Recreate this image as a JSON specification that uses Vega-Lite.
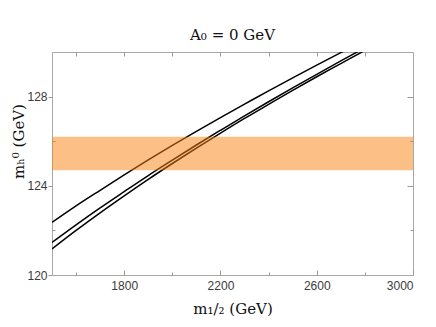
{
  "$schema": "https://vega.github.io/schema/vega-lite/v6.json",
  "width": 361,
  "height": 223,
  "autosize": {"type": "none"},
  "padding": {"left": 52, "top": 52, "right": 23, "bottom": 52},
  "background": "white",
  "config": {
    "view": {"stroke": "#a8a8a8", "strokeWidth": 1},
    "axis": {
      "domain": false,
      "grid": false,
      "tickColor": "#999999",
      "labelFont": "Liberation Sans",
      "labelFontSize": 12,
      "labelColor": "#3a3a3a",
      "titleFont": "DejaVu Serif",
      "titleFontSize": 15,
      "titleFontWeight": "normal",
      "titleColor": "#111111"
    }
  },
  "title": {
    "text": "A₀ = 0 GeV",
    "font": "DejaVu Serif",
    "fontSize": 15,
    "fontWeight": "normal",
    "color": "#111111",
    "offset": 9
  },
  "datasets": {
    "curves": [
      {"curve": "a", "m12": 1500, "mh": 122.36},
      {"curve": "a", "m12": 1600, "mh": 123.10},
      {"curve": "a", "m12": 1700, "mh": 123.80},
      {"curve": "a", "m12": 1800, "mh": 124.49},
      {"curve": "a", "m12": 1900, "mh": 125.16},
      {"curve": "a", "m12": 2000, "mh": 125.81},
      {"curve": "a", "m12": 2100, "mh": 126.44},
      {"curve": "a", "m12": 2200, "mh": 127.06},
      {"curve": "a", "m12": 2300, "mh": 127.66},
      {"curve": "a", "m12": 2400, "mh": 128.26},
      {"curve": "a", "m12": 2500, "mh": 128.84},
      {"curve": "a", "m12": 2600, "mh": 129.41},
      {"curve": "a", "m12": 2700, "mh": 129.97},
      {"curve": "a", "m12": 2800, "mh": 130.52},
      {"curve": "b", "m12": 1500, "mh": 121.46},
      {"curve": "b", "m12": 1600, "mh": 122.25},
      {"curve": "b", "m12": 1700, "mh": 123.01},
      {"curve": "b", "m12": 1800, "mh": 123.74},
      {"curve": "b", "m12": 1900, "mh": 124.46},
      {"curve": "b", "m12": 2000, "mh": 125.15},
      {"curve": "b", "m12": 2100, "mh": 125.83},
      {"curve": "b", "m12": 2200, "mh": 126.49},
      {"curve": "b", "m12": 2300, "mh": 127.14},
      {"curve": "b", "m12": 2400, "mh": 127.77},
      {"curve": "b", "m12": 2500, "mh": 128.39},
      {"curve": "b", "m12": 2600, "mh": 129.00},
      {"curve": "b", "m12": 2700, "mh": 129.60},
      {"curve": "b", "m12": 2800, "mh": 130.19},
      {"curve": "c", "m12": 1500, "mh": 121.17},
      {"curve": "c", "m12": 1600, "mh": 122.00},
      {"curve": "c", "m12": 1700, "mh": 122.79},
      {"curve": "c", "m12": 1800, "mh": 123.55},
      {"curve": "c", "m12": 1900, "mh": 124.29},
      {"curve": "c", "m12": 2000, "mh": 125.00},
      {"curve": "c", "m12": 2100, "mh": 125.69},
      {"curve": "c", "m12": 2200, "mh": 126.36},
      {"curve": "c", "m12": 2300, "mh": 127.02},
      {"curve": "c", "m12": 2400, "mh": 127.65},
      {"curve": "c", "m12": 2500, "mh": 128.28},
      {"curve": "c", "m12": 2600, "mh": 128.89},
      {"curve": "c", "m12": 2700, "mh": 129.48},
      {"curve": "c", "m12": 2800, "mh": 130.07}
    ],
    "band": [{"lo": 124.7, "hi": 126.2}]
  },
  "layer": [
    {
      "data": {"name": "curves"},
      "mark": {"type": "line", "color": "black", "strokeWidth": 1.5, "interpolate": "monotone", "clip": true},
      "encoding": {
        "x": {
          "field": "m12", "type": "quantitative",
          "scale": {"domain": [1500, 3000], "nice": false, "zero": false},
          "axis": {
            "orient": "bottom",
            "values": [1800, 2200, 2600, 3000],
            "format": "d",
            "tickSize": -5,
            "labelPadding": 10,
            "title": "m₁/₂ (GeV)",
            "titlePadding": 10
          }
        },
        "y": {
          "field": "mh", "type": "quantitative",
          "scale": {"domain": [120, 130], "nice": false, "zero": false},
          "axis": {
            "orient": "left",
            "values": [120, 124, 128],
            "format": "d",
            "tickSize": 4,
            "labelPadding": 1,
            "title": "mₕ⁰ (GeV)",
            "titleAngle": -90,
            "titleAlign": "center",
            "titleBaseline": "middle",
            "titleX": -34,
            "titleY": 89
          }
        },
        "detail": {"field": "curve"}
      }
    },
    {
      "data": {"name": "band"},
      "mark": {"type": "rect", "color": "#f97f0b", "opacity": 0.5},
      "encoding": {
        "y": {"field": "lo", "type": "quantitative", "scale": {"domain": [120, 130], "nice": false, "zero": false}, "axis": null},
        "y2": {"field": "hi"}
      }
    },
    {
      "data": {"name": "curves"},
      "mark": {"type": "line", "opacity": 0, "clip": true},
      "encoding": {
        "x": {
          "field": "m12", "type": "quantitative",
          "scale": {"domain": [1500, 3000], "nice": false, "zero": false},
          "axis": {"orient": "top", "values": [1600, 1800, 2000, 2200, 2400, 2600, 2800], "tickSize": -4, "labels": false, "title": null}
        },
        "y": {
          "field": "mh", "type": "quantitative",
          "scale": {"domain": [120, 130], "nice": false, "zero": false},
          "axis": {"orient": "right", "values": [124, 128], "tickSize": -6, "labels": false, "title": null}
        },
        "detail": {"field": "curve"}
      }
    },
    {
      "data": {"name": "curves"},
      "mark": {"type": "line", "opacity": 0, "clip": true},
      "encoding": {
        "x": {
          "field": "m12", "type": "quantitative",
          "scale": {"domain": [1500, 3000], "nice": false, "zero": false},
          "axis": {"orient": "bottom", "values": [1600, 2000, 2400, 2800], "tickSize": -3, "labels": false, "title": null}
        },
        "y": {
          "field": "mh", "type": "quantitative",
          "scale": {"domain": [120, 130], "nice": false, "zero": false},
          "axis": {"orient": "left", "values": [122, 126], "tickSize": -3, "labels": false, "title": null}
        },
        "detail": {"field": "curve"}
      }
    },
    {
      "data": {"name": "curves"},
      "mark": {"type": "line", "opacity": 0, "clip": true},
      "encoding": {
        "y": {
          "field": "mh", "type": "quantitative",
          "scale": {"domain": [120, 130], "nice": false, "zero": false},
          "axis": {"orient": "right", "values": [122, 126], "tickSize": -3, "labels": false, "title": null}
        },
        "detail": {"field": "curve"}
      }
    }
  ],
  "resolve": {"axis": {"x": "independent", "y": "independent"}}
}
